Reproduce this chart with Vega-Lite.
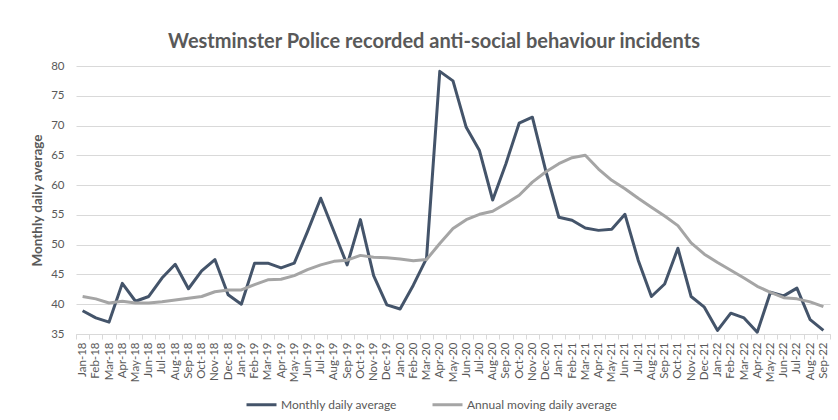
{
  "$schema": "https://vega.github.io/schema/vega-lite/v6.json",
  "autosize": "none",
  "width": 754,
  "height": 268,
  "padding": {"left": 76, "top": 66, "right": 8, "bottom": 86},
  "background": "white",
  "title": {
    "text": "Westminster Police recorded anti-social behaviour incidents",
    "font": "Lato",
    "fontSize": 20,
    "fontWeight": "bold",
    "color": "#595959",
    "anchor": "middle",
    "dx": -19,
    "offset": 8
  },
  "data": {
    "values": [
      {"month": "Jan-18", "series": "Monthly daily average", "value": 38.9},
      {"month": "Feb-18", "series": "Monthly daily average", "value": 37.7},
      {"month": "Mar-18", "series": "Monthly daily average", "value": 37.0},
      {"month": "Apr-18", "series": "Monthly daily average", "value": 43.5},
      {"month": "May-18", "series": "Monthly daily average", "value": 40.5},
      {"month": "Jun-18", "series": "Monthly daily average", "value": 41.3},
      {"month": "Jul-18", "series": "Monthly daily average", "value": 44.4},
      {"month": "Aug-18", "series": "Monthly daily average", "value": 46.7},
      {"month": "Sep-18", "series": "Monthly daily average", "value": 42.6},
      {"month": "Oct-18", "series": "Monthly daily average", "value": 45.6},
      {"month": "Nov-18", "series": "Monthly daily average", "value": 47.5},
      {"month": "Dec-18", "series": "Monthly daily average", "value": 41.6},
      {"month": "Jan-19", "series": "Monthly daily average", "value": 40.0},
      {"month": "Feb-19", "series": "Monthly daily average", "value": 46.9},
      {"month": "Mar-19", "series": "Monthly daily average", "value": 46.9},
      {"month": "Apr-19", "series": "Monthly daily average", "value": 46.1},
      {"month": "May-19", "series": "Monthly daily average", "value": 46.9},
      {"month": "Jun-19", "series": "Monthly daily average", "value": 52.2},
      {"month": "Jul-19", "series": "Monthly daily average", "value": 57.8},
      {"month": "Aug-19", "series": "Monthly daily average", "value": 52.2},
      {"month": "Sep-19", "series": "Monthly daily average", "value": 46.6},
      {"month": "Oct-19", "series": "Monthly daily average", "value": 54.2},
      {"month": "Nov-19", "series": "Monthly daily average", "value": 44.8},
      {"month": "Dec-19", "series": "Monthly daily average", "value": 39.9},
      {"month": "Jan-20", "series": "Monthly daily average", "value": 39.2},
      {"month": "Feb-20", "series": "Monthly daily average", "value": 43.2},
      {"month": "Mar-20", "series": "Monthly daily average", "value": 47.7},
      {"month": "Apr-20", "series": "Monthly daily average", "value": 79.1},
      {"month": "May-20", "series": "Monthly daily average", "value": 77.5},
      {"month": "Jun-20", "series": "Monthly daily average", "value": 69.7},
      {"month": "Jul-20", "series": "Monthly daily average", "value": 65.8},
      {"month": "Aug-20", "series": "Monthly daily average", "value": 57.5},
      {"month": "Sep-20", "series": "Monthly daily average", "value": 63.6},
      {"month": "Oct-20", "series": "Monthly daily average", "value": 70.4},
      {"month": "Nov-20", "series": "Monthly daily average", "value": 71.4},
      {"month": "Dec-20", "series": "Monthly daily average", "value": 62.5},
      {"month": "Jan-21", "series": "Monthly daily average", "value": 54.6},
      {"month": "Feb-21", "series": "Monthly daily average", "value": 54.1},
      {"month": "Mar-21", "series": "Monthly daily average", "value": 52.8},
      {"month": "Apr-21", "series": "Monthly daily average", "value": 52.4},
      {"month": "May-21", "series": "Monthly daily average", "value": 52.6},
      {"month": "Jun-21", "series": "Monthly daily average", "value": 55.1},
      {"month": "Jul-21", "series": "Monthly daily average", "value": 47.4},
      {"month": "Aug-21", "series": "Monthly daily average", "value": 41.3},
      {"month": "Sep-21", "series": "Monthly daily average", "value": 43.4},
      {"month": "Oct-21", "series": "Monthly daily average", "value": 49.4},
      {"month": "Nov-21", "series": "Monthly daily average", "value": 41.3},
      {"month": "Dec-21", "series": "Monthly daily average", "value": 39.5},
      {"month": "Jan-22", "series": "Monthly daily average", "value": 35.6},
      {"month": "Feb-22", "series": "Monthly daily average", "value": 38.5},
      {"month": "Mar-22", "series": "Monthly daily average", "value": 37.7},
      {"month": "Apr-22", "series": "Monthly daily average", "value": 35.3},
      {"month": "May-22", "series": "Monthly daily average", "value": 42.0},
      {"month": "Jun-22", "series": "Monthly daily average", "value": 41.4},
      {"month": "Jul-22", "series": "Monthly daily average", "value": 42.7},
      {"month": "Aug-22", "series": "Monthly daily average", "value": 37.4},
      {"month": "Sep-22", "series": "Monthly daily average", "value": 35.6},
      {"month": "Jan-18", "series": "Annual moving daily average", "value": 41.3},
      {"month": "Feb-18", "series": "Annual moving daily average", "value": 40.9},
      {"month": "Mar-18", "series": "Annual moving daily average", "value": 40.2},
      {"month": "Apr-18", "series": "Annual moving daily average", "value": 40.5},
      {"month": "May-18", "series": "Annual moving daily average", "value": 40.2},
      {"month": "Jun-18", "series": "Annual moving daily average", "value": 40.2},
      {"month": "Jul-18", "series": "Annual moving daily average", "value": 40.4},
      {"month": "Aug-18", "series": "Annual moving daily average", "value": 40.7},
      {"month": "Sep-18", "series": "Annual moving daily average", "value": 41.0},
      {"month": "Oct-18", "series": "Annual moving daily average", "value": 41.3},
      {"month": "Nov-18", "series": "Annual moving daily average", "value": 42.1},
      {"month": "Dec-18", "series": "Annual moving daily average", "value": 42.4},
      {"month": "Jan-19", "series": "Annual moving daily average", "value": 42.4},
      {"month": "Feb-19", "series": "Annual moving daily average", "value": 43.3},
      {"month": "Mar-19", "series": "Annual moving daily average", "value": 44.1},
      {"month": "Apr-19", "series": "Annual moving daily average", "value": 44.2},
      {"month": "May-19", "series": "Annual moving daily average", "value": 44.8},
      {"month": "Jun-19", "series": "Annual moving daily average", "value": 45.8},
      {"month": "Jul-19", "series": "Annual moving daily average", "value": 46.6},
      {"month": "Aug-19", "series": "Annual moving daily average", "value": 47.2},
      {"month": "Sep-19", "series": "Annual moving daily average", "value": 47.4},
      {"month": "Oct-19", "series": "Annual moving daily average", "value": 48.2},
      {"month": "Nov-19", "series": "Annual moving daily average", "value": 47.9},
      {"month": "Dec-19", "series": "Annual moving daily average", "value": 47.8},
      {"month": "Jan-20", "series": "Annual moving daily average", "value": 47.6},
      {"month": "Feb-20", "series": "Annual moving daily average", "value": 47.3},
      {"month": "Mar-20", "series": "Annual moving daily average", "value": 47.5},
      {"month": "Apr-20", "series": "Annual moving daily average", "value": 50.2},
      {"month": "May-20", "series": "Annual moving daily average", "value": 52.7},
      {"month": "Jun-20", "series": "Annual moving daily average", "value": 54.2},
      {"month": "Jul-20", "series": "Annual moving daily average", "value": 55.1},
      {"month": "Aug-20", "series": "Annual moving daily average", "value": 55.6},
      {"month": "Sep-20", "series": "Annual moving daily average", "value": 56.9},
      {"month": "Oct-20", "series": "Annual moving daily average", "value": 58.3},
      {"month": "Nov-20", "series": "Annual moving daily average", "value": 60.5},
      {"month": "Dec-20", "series": "Annual moving daily average", "value": 62.2},
      {"month": "Jan-21", "series": "Annual moving daily average", "value": 63.6},
      {"month": "Feb-21", "series": "Annual moving daily average", "value": 64.6},
      {"month": "Mar-21", "series": "Annual moving daily average", "value": 65.0},
      {"month": "Apr-21", "series": "Annual moving daily average", "value": 62.7},
      {"month": "May-21", "series": "Annual moving daily average", "value": 60.8},
      {"month": "Jun-21", "series": "Annual moving daily average", "value": 59.4},
      {"month": "Jul-21", "series": "Annual moving daily average", "value": 57.8},
      {"month": "Aug-21", "series": "Annual moving daily average", "value": 56.3},
      {"month": "Sep-21", "series": "Annual moving daily average", "value": 54.8},
      {"month": "Oct-21", "series": "Annual moving daily average", "value": 53.2},
      {"month": "Nov-21", "series": "Annual moving daily average", "value": 50.3},
      {"month": "Dec-21", "series": "Annual moving daily average", "value": 48.4},
      {"month": "Jan-22", "series": "Annual moving daily average", "value": 47.0},
      {"month": "Feb-22", "series": "Annual moving daily average", "value": 45.7},
      {"month": "Mar-22", "series": "Annual moving daily average", "value": 44.4},
      {"month": "Apr-22", "series": "Annual moving daily average", "value": 43.0},
      {"month": "May-22", "series": "Annual moving daily average", "value": 42.0},
      {"month": "Jun-22", "series": "Annual moving daily average", "value": 41.1},
      {"month": "Jul-22", "series": "Annual moving daily average", "value": 40.9},
      {"month": "Aug-22", "series": "Annual moving daily average", "value": 40.4},
      {"month": "Sep-22", "series": "Annual moving daily average", "value": 39.6}
    ]
  },
  "mark": {"type": "line", "strokeWidth": 3, "strokeJoin": "round"},
  "encoding": {
    "x": {
      "field": "month",
      "type": "ordinal",
      "sort": null,
      "scale": {"paddingInner": 0, "paddingOuter": 0},
      "axis": {
        "title": null,
        "labelAngle": -90,
        "labelFont": "Lato",
        "labelFontSize": 11.5,
        "labelColor": "#595959",
        "labelPadding": 3,
        "tickBand": "extent",
        "tickColor": "#D9D9D9",
        "tickSize": 5,
        "domainColor": "#D9D9D9",
        "grid": false
      }
    },
    "y": {
      "field": "value",
      "type": "quantitative",
      "scale": {"domain": [35, 80], "nice": false, "zero": false},
      "axis": {
        "title": "Monthly daily average",
        "titleFont": "Lato",
        "titleFontSize": 13.5,
        "titleFontWeight": "bold",
        "titleColor": "#595959",
        "titlePadding": 6,
        "values": [35, 40, 45, 50, 55, 60, 65, 70, 75, 80],
        "labelFont": "Lato",
        "labelFontSize": 11.5,
        "labelColor": "#595959",
        "labelPadding": 12,
        "tickSize": 0,
        "domain": false,
        "grid": true,
        "gridColor": "#D9D9D9"
      }
    },
    "color": {
      "field": "series",
      "type": "nominal",
      "sort": ["Monthly daily average", "Annual moving daily average"],
      "scale": {
        "domain": ["Monthly daily average", "Annual moving daily average"],
        "range": ["#44546A", "#A5A5A5"]
      },
      "legend": {
        "title": null,
        "orient": "none",
        "direction": "horizontal",
        "legendX": 169,
        "legendY": 322,
        "symbolType": "stroke",
        "symbolStrokeWidth": 3,
        "symbolSize": 900,
        "labelFont": "Lato",
        "labelFontSize": 12,
        "labelColor": "#595959",
        "labelOffset": 3,
        "columnPadding": 28
      }
    }
  },
  "config": {"view": {"stroke": null}}
}
